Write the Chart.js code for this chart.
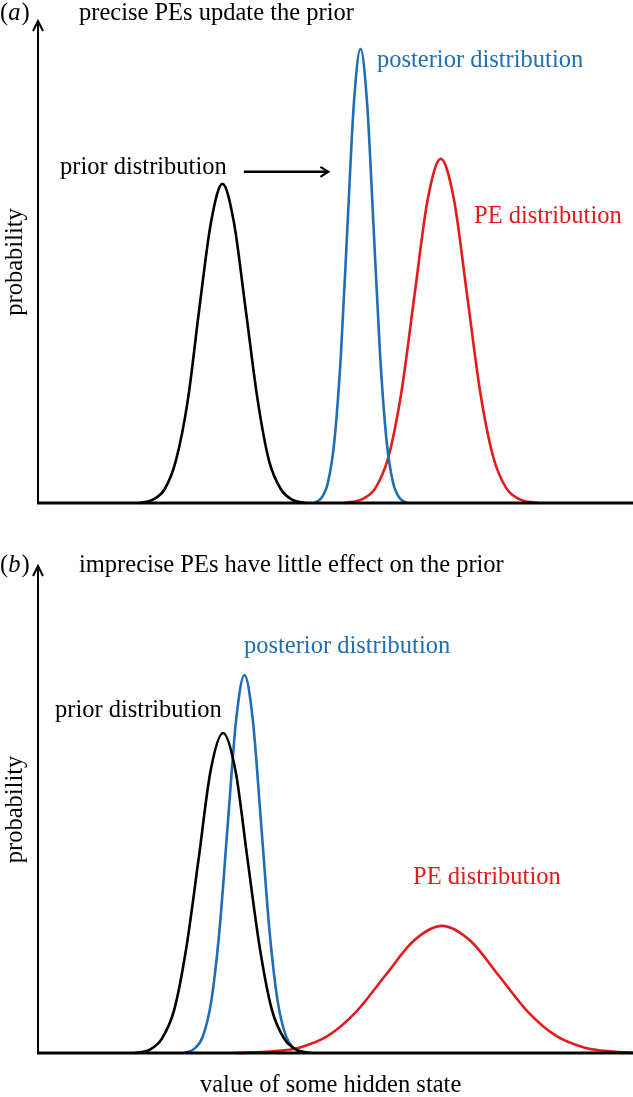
<!DOCTYPE html>
<html>
<head>
<meta charset="utf-8">
<script src="https://cdn.jsdelivr.net/npm/chart.js@4"></script>
<style>
  html, body { margin: 0; padding: 0; background: #fff; }
  #wrap { position: relative; width: 633px; height: 1097px; }
  canvas { position: absolute; left: 0; }
</style>
</head>
<body>
<div id="wrap">
  <canvas id="chartA" width="633" height="540" style="top:0px"></canvas>
  <canvas id="chartB" width="633" height="557" style="top:540px"></canvas>
</div>
<script>
// values: x = hidden state (0..100), y = probability (0..100)

// (a) precise PEs
const aPriorX = [17.0, 19.3, 21.3, 23.2, 25.2, 27.1, 29.1, 31.0, 32.9, 34.9, 36.9, 38.8, 40.8, 42.7, 45.0];
const aPriorY = [0, 0.7, 2.9, 8.9, 21.5, 40.2, 58.4, 66.2, 58.4, 40.2, 21.5, 8.9, 2.9, 0.7, 0];
const aPostX = [46.3, 47.6, 48.7, 49.8, 50.9, 52.0, 53.1, 54.2, 55.3, 56.4, 57.5, 58.6, 59.7, 60.8, 62.1];
const aPostY = [0, 1.0, 4.1, 12.7, 30.6, 57.2, 83.1, 94.2, 83.1, 57.2, 30.6, 12.7, 4.1, 1.0, 0];
const aPeX = [51.4, 54.5, 56.7, 58.9, 61.1, 63.3, 65.5, 67.7, 69.9, 72.1, 74.3, 76.5, 78.7, 80.9, 84.0];
const aPeY = [0, 0.8, 3.1, 9.6, 23.2, 43.3, 63.0, 71.4, 63.0, 43.3, 23.2, 9.6, 3.1, 0.8, 0];

// (b) imprecise PEs
const bPriorX = [16.3, 18.8, 20.8, 22.9, 24.9, 27.0, 29.0, 31.1, 33.2, 35.2, 37.3, 39.3, 41.4, 43.4, 45.9];
const bPriorY = [0, 0.7, 2.9, 8.9, 21.4, 39.9, 57.9, 65.7, 57.9, 39.9, 21.4, 8.9, 2.9, 0.7, 0];
const bPostX = [24.6, 26.3, 27.7, 29.1, 30.5, 31.9, 33.3, 34.7, 36.1, 37.5, 38.9, 40.3, 41.7, 43.1, 44.8];
const bPostY = [0, 0.9, 3.4, 10.5, 25.2, 47.1, 68.4, 77.6, 68.4, 47.1, 25.2, 10.5, 3.4, 0.9, 0];
const bPeX = [33.3, 39.1, 43.9, 48.7, 53.5, 58.3, 63.1, 67.9, 72.7, 77.5, 82.3, 87.1, 91.9, 96.7, 100];
const bPeY = [0, 0.3, 1.1, 3.5, 8.5, 15.8, 23.0, 26.1, 23.0, 15.8, 8.5, 3.5, 1.1, 0.3, 0.05];

const BLACK = '#000000';
const BLUE = '#1f6db5';
const RED = '#e41a1c';
const FONT = '24.5px "Liberation Serif", "Times New Roman", serif';
const FONT_IT = 'italic 24.5px "Liberation Serif", "Times New Roman", serif';

function pts(xs, ys) {
  return xs.map((x, i) => ({ x: x, y: ys[i] }));
}

function line(label, xs, ys, color) {
  return {
    label: label,
    data: pts(xs, ys),
    borderColor: color,
    borderWidth: 2.6,
    pointRadius: 0,
    fill: false,
    clip: false,
    cubicInterpolationMode: 'monotone'
  };
}

const decor = {
  id: 'decor',
  beforeDatasetsDraw(chart) {
    const ctx = chart.ctx;
    const a = chart.chartArea;
    ctx.save();
    ctx.strokeStyle = '#000';
    ctx.lineWidth = 2;
    ctx.beginPath();
    ctx.moveTo(a.left, a.bottom);
    ctx.lineTo(a.left, a.top);
    ctx.moveTo(a.left - 5, a.top + 10);
    ctx.lineTo(a.left, a.top);
    ctx.lineTo(a.left + 5, a.top + 10);
    ctx.stroke();
    ctx.restore();
  },
  afterDatasetsDraw(chart, args, opts) {
    const ctx = chart.ctx;
    const a = chart.chartArea;
    const xs = chart.scales.x, ys = chart.scales.y;
    ctx.save();
    // baseline
    ctx.strokeStyle = '#000';
    ctx.lineWidth = 3;
    ctx.beginPath();
    ctx.moveTo(a.left - 1, a.bottom);
    ctx.lineTo(chart.width, a.bottom);
    ctx.stroke();

    // panel letter + title
    ctx.fillStyle = '#000';
    ctx.textBaseline = 'alphabetic';
    ctx.textAlign = 'left';
    let x = 0;
    ctx.font = FONT;
    ctx.fillText('(', x, opts.titleY);
    x += ctx.measureText('(').width;
    ctx.font = FONT_IT;
    ctx.fillText(opts.letter, x, opts.titleY);
    x += ctx.measureText(opts.letter).width + 1;
    ctx.font = FONT;
    ctx.fillText(')', x, opts.titleY);
    ctx.fillText(opts.title, 79, opts.titleY);

    // y axis label
    ctx.save();
    ctx.translate(22, (a.top + a.bottom) / 2);
    ctx.rotate(-Math.PI / 2);
    ctx.textAlign = 'center';
    ctx.fillText('probability', 0, 0);
    ctx.restore();

    // curve labels
    opts.labels.forEach(l => {
      ctx.fillStyle = l.color;
      ctx.textAlign = 'left';
      ctx.fillText(l.text, l.x, l.y);
    });

    // optional arrow (in data coordinates)
    if (opts.arrow) {
      const y = ys.getPixelForValue(opts.arrow.y);
      const x0 = xs.getPixelForValue(opts.arrow.x0);
      const x1 = xs.getPixelForValue(opts.arrow.x1);
      ctx.strokeStyle = '#000';
      ctx.lineWidth = 2.5;
      ctx.beginPath();
      ctx.moveTo(x0, y);
      ctx.lineTo(x1 - 2, y);
      ctx.stroke();
      ctx.lineWidth = 2.2;
      ctx.beginPath();
      ctx.moveTo(x1 - 8, y - 5);
      ctx.lineTo(x1, y);
      ctx.lineTo(x1 - 8, y + 5);
      ctx.stroke();
    }

    if (opts.xTitle) {
      ctx.fillStyle = '#000';
      ctx.textAlign = 'left';
      ctx.fillText(opts.xTitle, 200, opts.xTitleY);
    }
    ctx.restore();
  }
};

function makeOptions(pad, decorOpts) {
  return {
    responsive: false,
    animation: false,
    events: [],
    layout: { padding: pad },
    plugins: {
      legend: { display: false },
      tooltip: { enabled: false },
      decor: decorOpts
    },
    scales: {
      x: { type: 'linear', min: 0, max: 100, display: false },
      y: { type: 'linear', min: 0, max: 100, display: false }
    }
  };
}

new Chart(document.getElementById('chartA'), {
  type: 'line',
  data: {
    datasets: [
      line('prior distribution', aPriorX, aPriorY, BLACK),
      line('posterior distribution', aPostX, aPostY, BLUE),
      line('PE distribution', aPeX, aPeY, RED)
    ]
  },
  options: makeOptions({ left: 38, right: 0, top: 21, bottom: 37 }, {
    letter: 'a',
    title: 'precise PEs update the prior',
    titleY: 20,
    labels: [
      { text: 'prior distribution', x: 60, y: 174, color: BLACK },
      { text: 'posterior distribution', x: 377, y: 67, color: BLUE },
      { text: 'PE distribution', x: 474, y: 223, color: RED }
    ],
    arrow: { x0: 34.6, x1: 48.8, y: 68.7 }
  }),
  plugins: [decor]
});

new Chart(document.getElementById('chartB'), {
  type: 'line',
  data: {
    datasets: [
      line('prior distribution', bPriorX, bPriorY, BLACK),
      line('posterior distribution', bPostX, bPostY, BLUE),
      line('PE distribution', bPeX, bPeY, RED)
    ]
  },
  options: makeOptions({ left: 38, right: 0, top: 26, bottom: 44 }, {
    letter: 'b',
    title: 'imprecise PEs have little effect on the prior',
    titleY: 32,
    labels: [
      { text: 'prior distribution', x: 55, y: 177, color: BLACK },
      { text: 'posterior distribution', x: 244, y: 113, color: BLUE },
      { text: 'PE distribution', x: 413, y: 344, color: RED }
    ],
    xTitle: 'value of some hidden state',
    xTitleY: 552
  }),
  plugins: [decor]
});
</script>
</body>
</html>
